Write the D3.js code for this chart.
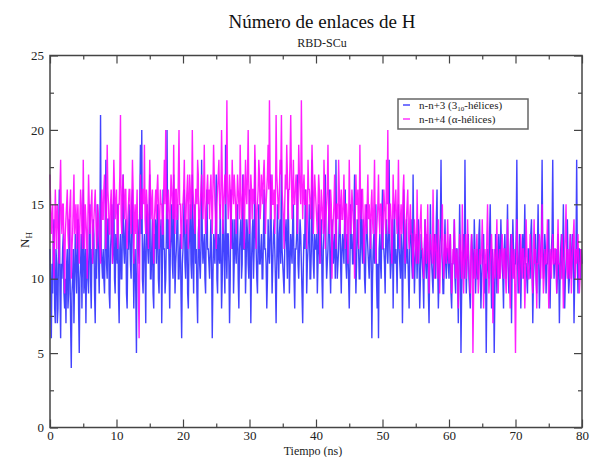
<!DOCTYPE html>
<html>
<head>
<meta charset="utf-8">
<script src="https://cdn.jsdelivr.net/npm/d3@7"></script>
<style>
  body { margin: 0; background: #fff; }
  svg { display: block; }
</style>
</head>
<body>
<svg id="chart" width="590" height="457"></svg>
<script>
// number of H bonds, one value every ~0.1 ns over 0-80 ns, rows of 4 ns

// n-n+3 (3_10 helices)
var helix310 = [
  12,9,6,11,9,13,14,8,7,12,11,7,8,13,16,9,6,11,10,12,13,9,8,10,7,11,12,8,9,14,11,7,4,9,10,12,7,10,13,11,
  9,12,14,8,5,10,11,13,8,12,16,9,10,12,7,11,12,10,9,13,15,10,8,12,11,14,13,9,7,12,10,15,14,11,9,13,21,12,11,10,
  12,10,9,13,18,11,10,14,14,9,8,12,13,15,11,12,16,10,9,13,12,11,15,9,7,12,13,10,10,14,17,12,11,13,14,9,8,12,12,15,
  13,11,10,15,16,12,8,11,12,9,5,13,14,12,11,15,19,13,20,10,9,12,13,11,7,14,15,12,11,13,17,10,10,12,14,9,8,13,12,14,
  11,13,15,10,9,12,13,14,7,11,16,12,12,9,10,13,20,12,14,11,8,12,13,15,11,10,17,13,9,11,12,14,15,10,10,12,13,9,6,11,
  12,14,16,11,10,13,14,9,8,12,13,15,11,10,17,12,9,14,15,11,12,9,7,13,14,11,10,12,18,13,11,12,13,10,9,14,16,12,12,11,
  10,12,14,11,6,10,13,12,11,14,17,10,9,13,12,11,15,12,8,10,14,13,11,9,19,12,10,13,13,11,7,10,16,13,12,14,9,11,14,12,
  11,13,15,10,8,12,13,14,10,11,17,12,12,14,9,11,14,13,11,10,16,12,7,11,13,14,10,12,18,13,12,10,9,13,15,11,11,12,13,10,
  10,13,16,12,12,11,8,10,14,12,11,13,17,12,9,11,13,14,12,10,7,11,15,12,10,13,14,11,18,12,11,10,9,12,13,14,12,10,16,13,
  9,11,13,12,11,14,15,10,8,12,12,13,17,11,10,12,14,13,11,9,7,11,13,12,16,14,9,11,12,13,15,10,10,12,18,13,11,10,13,12,
  12,13,9,11,15,12,11,13,14,10,8,12,13,14,17,12,10,11,12,14,16,11,9,12,14,13,11,12,13,10,18,12,10,11,12,14,15,11,9,12,
  13,12,11,14,16,11,10,13,12,10,8,11,15,12,13,11,11,14,17,12,9,11,14,13,12,10,10,13,16,12,11,14,13,10,9,12,15,13,12,11,
  10,12,14,11,6,10,12,13,11,14,15,10,8,11,6,12,13,11,10,14,16,12,12,11,9,13,14,12,11,13,18,12,10,11,13,14,8,12,15,11,
  12,11,9,13,15,12,11,10,13,12,7,11,16,13,10,12,14,11,12,10,8,12,13,14,11,10,17,12,9,11,12,13,10,12,14,11,8,10,13,12,
  11,10,8,12,14,11,10,13,12,9,7,11,15,12,11,10,9,12,13,11,10,14,16,11,8,10,12,13,18,12,11,9,9,12,14,11,10,12,12,11,
  10,12,13,9,8,11,11,12,14,10,9,12,12,10,7,11,15,12,5,9,11,12,13,10,18,12,9,11,12,13,10,9,8,11,13,12,11,10,14,12,
  9,11,12,10,10,13,14,11,8,10,11,12,13,10,9,11,5,10,12,11,10,13,15,11,8,12,11,10,5,9,13,12,9,11,12,13,10,11,14,12,
  11,10,8,12,13,11,10,12,15,11,9,10,12,13,7,11,14,12,10,11,11,13,18,12,9,10,13,12,8,11,12,13,10,12,15,11,11,10,9,12,
  12,11,10,13,14,11,7,10,11,12,13,10,9,12,15,11,8,10,12,13,18,12,10,11,13,12,9,11,11,13,14,10,8,11,12,13,18,12,10,11,
  11,12,9,10,13,11,7,10,12,13,10,12,15,11,8,10,11,12,14,11,9,10,12,13,10,11,13,12,7,10,11,12,18,11,9,12,12,11,10,12,
  11
];

// n-n+4 (alpha helices)
var helixAlpha = [
  17,15,13,14,15,12,10,13,16,14,12,15,14,13,11,16,18,14,13,15,15,12,9,13,14,15,16,13,12,14,15,16,10,12,13,15,17,13,14,15,
  12,14,15,13,11,14,16,15,13,12,18,14,12,15,14,13,10,14,17,15,13,14,15,16,11,13,14,15,16,14,12,13,15,14,13,12,11,15,16,14,
  14,16,17,15,12,14,19,16,15,13,13,15,16,14,11,15,18,16,14,15,16,13,12,15,15,17,21,14,13,16,17,15,14,16,16,13,12,14,15,16,
  16,14,13,15,18,16,11,14,15,13,14,16,12,9,6,12,17,15,14,16,16,15,19,14,13,16,15,14,12,15,18,16,14,15,16,13,11,14,15,16,
  14,16,17,15,12,14,16,15,15,13,13,16,18,15,20,16,14,15,16,14,12,15,17,16,15,14,19,15,13,16,16,14,14,17,20,15,15,13,12,15,
  15,16,18,14,13,15,16,17,12,15,17,16,14,15,20,16,15,14,13,16,16,15,18,17,12,14,15,16,17,15,14,16,19,15,13,14,16,17,15,16,
  14,16,17,15,13,16,19,17,15,14,12,15,16,17,18,15,14,16,20,17,13,15,16,17,15,16,22,16,14,15,17,16,12,15,18,16,15,17,16,15,
  13,15,17,16,15,14,19,16,14,15,16,17,12,15,18,16,15,17,20,16,13,15,17,16,14,16,16,15,19,17,12,14,15,16,18,17,14,15,17,16,
  15,17,18,16,13,15,16,17,19,16,22,17,14,16,17,15,15,16,13,15,21,17,16,15,14,16,18,17,21,16,15,14,12,15,17,16,19,17,14,16,
  16,18,21,17,14,16,18,15,15,16,17,16,13,15,19,17,16,15,22,17,14,16,17,15,15,16,12,14,18,16,16,15,14,16,19,17,13,15,17,16,
  15,14,13,15,17,16,11,14,16,15,14,13,18,16,12,14,15,16,19,15,13,14,16,15,10,13,14,15,17,14,12,15,15,14,18,16,13,15,16,14,
  14,15,17,14,12,15,15,14,11,13,18,15,13,14,16,15,14,13,10,14,17,15,15,16,12,14,19,15,14,16,16,14,11,13,15,14,13,15,17,14,
  15,14,12,15,16,14,13,15,18,14,11,13,14,15,17,14,13,15,15,14,12,14,16,15,14,13,18,15,20,14,13,15,15,14,11,13,17,15,14,15,
  16,14,13,15,18,14,12,14,15,13,14,16,17,14,11,13,14,15,16,13,12,14,15,13,13,12,10,12,14,13,12,11,16,13,11,12,13,14,15,12,
  12,11,10,12,14,13,11,12,15,12,9,11,13,12,12,11,16,13,10,12,13,12,11,10,14,12,9,11,12,13,15,12,10,11,13,12,11,12,14,12,
  11,12,13,11,9,10,12,11,14,12,10,11,12,10,8,11,13,12,11,10,15,12,9,11,12,13,10,11,14,12,11,10,9,12,13,11,5,9,12,11,
  10,12,13,11,9,10,12,11,11,12,14,12,8,10,12,11,10,13,15,12,9,10,11,12,13,11,7,10,12,11,10,12,14,11,9,11,12,10,11,12,
  13,11,10,12,12,10,9,11,14,12,11,10,8,11,13,12,10,11,12,9,5,10,14,12,11,10,9,12,13,11,10,12,12,11,8,10,14,12,11,10,
  10,11,13,12,11,10,9,12,14,11,12,10,8,11,11,12,13,11,10,12,15,11,9,10,12,11,11,12,14,11,8,10,12,11,10,12,13,11,11,12,
  12,11,9,12,14,11,11,10,10,12,13,11,8,10,12,13,15,11,10,12,11,10,13,12,9,11,12,13,14,11,10,12,11,12,13,11,9,10,12,11,
  11
];

var timeRange = [0, 80];
var xTicks = [0, 10, 20, 30, 40, 50, 60, 70, 80];
var yTicks = [0, 5, 10, 15, 20, 25];
var seriesNames = ["n-n+3", "n-n+4"];
var seriesColors = ["#1a1aff", "#ff00ff"];

var plot = {left: 50, right: 582, top: 55.5, bottom: 427.5};
var serif = '"Liberation Serif", "DejaVu Serif", serif';

var svg = d3.select("#chart");

var x = d3.scaleLinear().domain(timeRange).range([plot.left, plot.right]);
var y = d3.scaleLinear().domain([0, 25]).range([plot.bottom, plot.top]);

// series (blue first, magenta on top); samples spread evenly over 0-80 ns
[helix310, helixAlpha].forEach(function(vals, k) {
  var step = (timeRange[1] - timeRange[0]) / (vals.length - 1);
  var line = d3.line()
    .x(function(d, i) { return x(timeRange[0] + i * step); })
    .y(function(d) { return y(d); });
  svg.append("path")
    .datum(vals)
    .attr("d", line)
    .attr("fill", "none")
    .attr("stroke", seriesColors[k])
    .attr("stroke-width", 1.4)
    .attr("stroke-linejoin", "miter")
    .attr("stroke-opacity", k == 0 ? 0.82 : 0.88);
});

var xMinor = d3.range(5, 80, 10);
var yMinor = d3.range(2.5, 25, 5);

var axisColor = "#444";
var drawAxis = function(axis, tr, labels) {
  var g = svg.append("g").attr("transform", tr).call(axis);
  g.select(".domain").remove();
  g.selectAll(".tick line").attr("stroke", axisColor).attr("stroke-width", 1.2);
  if (!labels) g.selectAll(".tick text").remove();
  else g.selectAll(".tick text")
    .style("font-family", serif).style("font-size", "13px").attr("fill", "#222");
  return g;
};

drawAxis(d3.axisBottom(x).tickValues(xTicks).tickSize(-8).tickPadding(3).tickFormat(d3.format("d")),
  "translate(0," + plot.bottom + ")", true);
drawAxis(d3.axisBottom(x).tickValues(xMinor).tickSize(-4), "translate(0," + plot.bottom + ")", false);
drawAxis(d3.axisTop(x).tickValues(xTicks).tickSize(-8), "translate(0," + plot.top + ")", false);
drawAxis(d3.axisTop(x).tickValues(xMinor).tickSize(-4), "translate(0," + plot.top + ")", false);

drawAxis(d3.axisLeft(y).tickValues(yTicks).tickSize(-8).tickPadding(6).tickFormat(d3.format("d")),
  "translate(" + plot.left + ",0)", true);
drawAxis(d3.axisLeft(y).tickValues(yMinor).tickSize(-4), "translate(" + plot.left + ",0)", false);
drawAxis(d3.axisRight(y).tickValues(yTicks).tickSize(-8), "translate(" + plot.right + ",0)", false);
drawAxis(d3.axisRight(y).tickValues(yMinor).tickSize(-4), "translate(" + plot.right + ",0)", false);

// frame
svg.append("rect")
  .attr("x", plot.left).attr("y", plot.top)
  .attr("width", plot.right - plot.left).attr("height", plot.bottom - plot.top)
  .attr("fill", "none").attr("stroke", axisColor).attr("stroke-width", 1.5);

// titles
svg.append("text")
  .attr("x", 322).attr("y", 28)
  .attr("text-anchor", "middle")
  .style("font-family", serif).style("font-size", "19px").attr("fill", "#111")
  .text("Número de enlaces de H");

svg.append("text")
  .attr("x", 322).attr("y", 47)
  .attr("text-anchor", "middle")
  .style("font-family", serif).style("font-size", "12px").attr("fill", "#222")
  .text("RBD-SCu");

svg.append("text")
  .attr("x", 313).attr("y", 454.5)
  .attr("text-anchor", "middle")
  .style("font-family", serif).style("font-size", "12px").attr("fill", "#222")
  .text("Tiempo (ns)");

var yLab = svg.append("text")
  .attr("transform", "translate(29,240) rotate(-90)")
  .attr("text-anchor", "middle")
  .style("font-family", serif).style("font-size", "13px").attr("fill", "#222");
yLab.append("tspan").text("N");
yLab.append("tspan").attr("dy", 3).style("font-size", "9px").text("H");

// legend
var legend = svg.append("g");
legend.append("rect")
  .attr("x", 398).attr("y", 99).attr("width", 130).attr("height", 30)
  .attr("fill", "#fff").attr("stroke", "#666").attr("stroke-width", 1.5);

var legendRows = [
  [seriesNames[0] + " (3", "10", "-hélices)"],
  [seriesNames[1] + " (α-hélices)"]
];
legendRows.forEach(function(parts, i) {
  var yy = 108.5 + i * 14;
  legend.append("line")
    .attr("x1", 403).attr("x2", 410).attr("y1", yy - 3.5).attr("y2", yy - 3.5)
    .attr("stroke", seriesColors[i]).attr("stroke-width", 1.2);
  var t = legend.append("text")
    .attr("x", 419).attr("y", yy)
    .style("font-family", serif).style("font-size", "11px").attr("fill", "#222");
  t.append("tspan").text(parts[0]);
  if (parts.length > 1) {
    t.append("tspan").attr("dy", 2.5).style("font-size", "7px").text(parts[1]);
    t.append("tspan").attr("dy", -2.5).text(parts[2]);
  }
});
</script>
</body>
</html>
